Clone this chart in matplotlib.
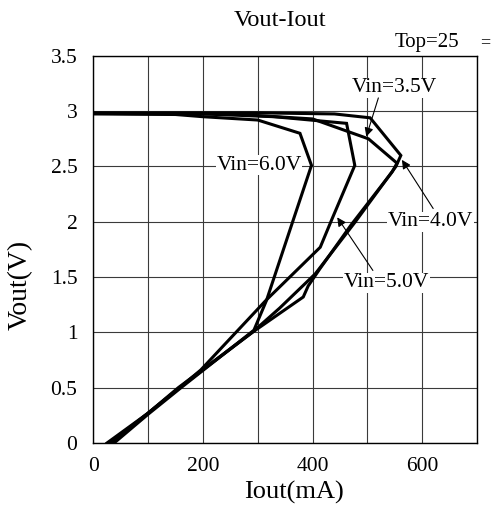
"""
Vout-Iout foldback curves for several input voltages.
"""

import matplotlib
matplotlib.use("Agg")
import matplotlib.pyplot as plt
import numpy as np

plt.rcParams['font.family'] = ['Liberation Serif', 'DejaVu Serif']

# curve data (Iout in mA, Vout in V)
iout_35 = [0, 250, 400, 502, 554, 545, 470, 414, 392, 383, 290, 160, 100, 25]
vout_35 = [2.98, 2.975, 2.93, 2.75, 2.53, 2.45, 1.97, 1.58, 1.42, 1.32, 1.0, 0.51, 0.27, 0.0]

iout_40 = [0, 300, 440, 505, 561, 552, 478, 405, 340, 290, 155, 100, 30]
vout_40 = [2.985, 2.985, 2.975, 2.94, 2.60, 2.50, 2.0, 1.53, 1.22, 1.0, 0.5, 0.27, 0.0]

iout_50 = [0, 200, 330, 462, 477, 435, 414, 315, 196, 160, 100, 33]
vout_50 = [2.98, 2.975, 2.95, 2.89, 2.51, 2.02, 1.77, 1.29, 0.66, 0.51, 0.27, 0.0]

iout_60 = [0, 150, 200, 300, 377, 398, 365, 316, 293, 160, 100, 38]
vout_60 = [2.975, 2.97, 2.95, 2.92, 2.80, 2.51, 2.02, 1.29, 1.02, 0.5, 0.26, 0.0]

xticks = [0, 100, 200, 300, 400, 500, 600, 700]
xtick_labels = ['0', '', '200', '', '400', '', '600', '']
yticks = [0, 0.5, 1, 1.5, 2, 2.5, 3, 3.5]
ytick_labels = ['0', '0.5', '1', '1.5', '2', '2.5', '3', '3.5']

# label text, label position, arrow tail, arrow tip (None = no arrow)
labels = [
    ('Vin=3.5V', (549, 3.21), (520, 3.12), (498, 2.77)),
    ('Vin=6.0V', (303, 2.51), None, None),
    ('Vin=4.0V', (615, 2.0), (620, 2.12), (563, 2.56)),
    ('Vin=5.0V', (535, 1.45), (510, 1.56), (445, 2.04)),
]

fig = plt.figure(figsize=(4.92, 5.15), dpi=100)
ax = fig.add_axes([0.1896, 0.1398, 0.780, 0.7517])

for xs, ys in [(iout_35, vout_35), (iout_40, vout_40), (iout_50, vout_50), (iout_60, vout_60)]:
    ax.plot(xs, ys, color='black', lw=2.2, solid_joinstyle='miter', zorder=3)

ax.set_xlim(0, 700)
ax.set_ylim(0, 3.5)
ax.set_xticks(xticks)
ax.set_xticklabels(xtick_labels)
ax.set_yticks(yticks)
ax.set_yticklabels(ytick_labels)
ax.tick_params(length=0, labelsize=15.5)
ax.tick_params(axis='x', pad=10)
ax.tick_params(axis='y', pad=11.5)
ax.grid(True, color='#3a3a3a', lw=0.8)
ax.set_axisbelow(True)
for sp in ax.spines.values():
    sp.set_linewidth(1.0)

for text, pos, tail, tip in labels:
    ax.text(pos[0], pos[1], text, fontsize=15.5, ha='center', va='center', zorder=4,
            bbox=dict(boxstyle='square,pad=0.02', fc='white', ec='none'))
    if tip is not None:
        ax.annotate('', xy=tip, xytext=tail, zorder=5,
                    arrowprops=dict(arrowstyle='-|>', lw=0.8, color='black',
                                    mutation_scale=13, shrinkA=0, shrinkB=0))

ax.set_xlabel('Iout(mA)', fontsize=19)
ax.xaxis.set_label_coords((294 - 93.3) / 383.7, (443 - 492) / 387.0)
ax.xaxis.label.set_va('center')
ax.set_ylabel('Vout(V)', fontsize=20)
ax.yaxis.set_label_coords((20 - 93.3) / 383.7, (443 - 285) / 387.0)
ax.yaxis.label.set_va('center')

fig.text(280 / 492, 1 - 20 / 515, 'Vout-Iout', fontsize=17.5, ha='center', va='center')
fig.text(427 / 492, 1 - 43 / 515, 'Top=25', fontsize=15, ha='center', va='center')
fig.text(485 / 492, 1 - 43 / 515, '=', fontsize=13, ha='center', va='center')

fig.savefig('out.png', dpi=100)
